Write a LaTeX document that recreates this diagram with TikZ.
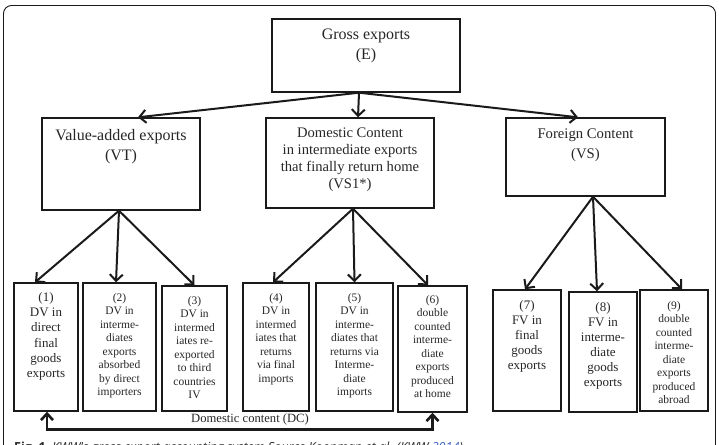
\documentclass[tikz,border=0pt]{standalone}
\usepackage{fontspec}
\setmainfont{Liberation Serif}
\newfontfamily\capfont{Open Sans}
\usetikzlibrary{arrows.meta,fit}
\definecolor{ink}{HTML}{1A1A1A}
\definecolor{txt}{HTML}{262626}
\definecolor{linkblue}{HTML}{3D5FC4}
\tikzset{
  box/.style={draw=ink, line width=1.4pt, inner sep=0pt},
  arr/.style={draw=ink, line width=2pt, -{Straight Barb[length=6.5pt,width=13pt,line width=2pt]}},
  dcarr/.style={draw=ink, line width=2.6pt, {Straight Barb[length=6.5pt,width=12pt]}-{Straight Barb[length=6.5pt,width=12pt]}},
  lbl/.style={text=txt, align=center, inner sep=0pt, anchor=north},
  big/.style={font=\fontsize{16}{20}\selectfont},
  mid/.style={font=\fontsize{14.6}{17}\selectfont},
  midb/.style={font=\fontsize{14.7}{20}\selectfont},
  sml/.style={font=\fontsize{13}{15.3}\selectfont},
  tiny/.style={font=\fontsize{11.5}{13.5}\selectfont},
}
\begin{document}
\begin{tikzpicture}[x=1pt,y=-1pt]
\useasboundingbox (0,0) rectangle (719,444);
% outer frame
\draw[ink, line width=0.9pt, rounded corners=8pt] (3.5,470) rectangle (715.5,5.5);
% top level
\node[box, fit={(272,19) (460,92)}] (E) {};
\node[box, fit={(42,118) (200,210)}] (VT) {};
\node[box, fit={(266,118) (434,208)}] (VS1) {};
\node[box, fit={(506,118) (665,196)}] (VS) {};
\node[lbl, big] (tE) at (366,29) {Gross exports\\(E)};
\node[lbl, big] (tVT) at (121,129) {Value-added exports\\(VT)};
\node[lbl, mid] (tVS1) at (350,128) {Domestic Content\\in intermediate exports\\that finally return home\\(VS1*)};
\node[lbl, midb] (tVS) at (585.5,129) {Foreign Content\\(VS)};
% bottom boxes
\node[box, fit={(14,283) (78,411)}] (b1) {};
\node[box, fit={(83,283) (156,411)}] (b2) {};
\node[box, fit={(162,286) (227,411)}] (b3) {};
\node[box, fit={(243,283) (309,411)}] (b4) {};
\node[box, fit={(316,283) (393,411)}] (b5) {};
\node[box, fit={(398,286) (467,412)}] (b6) {};
\node[box, fit={(493,290) (561,411)}] (b7) {};
\node[box, fit={(569,292) (637,412)}] (b8) {};
\node[box, fit={(640,290) (708,411)}] (b9) {};
\node[lbl, sml] (t1) at (46,292) {(1)\\DV in\\direct\\final\\goods\\exports};
\node[lbl, tiny] (t2) at (119.5,293) {(2)\\DV in\\interme-\\diates\\exports\\absorbed\\by direct\\importers};
\node[lbl, tiny] (t3) at (194.5,296) {(3)\\DV in\\intermed\\iates re-\\exported\\to third\\countries\\IV};
\node[lbl, tiny] (t4) at (276,293) {(4)\\DV in\\intermed\\iates that\\returns\\via final\\imports};
\node[lbl, tiny] (t5) at (354.5,293) {(5)\\DV in\\interme-\\diates that\\returns via\\Interme-\\diate\\imports};
\node[lbl, tiny] (t6) at (432.5,295) {(6)\\double\\counted\\interme-\\diate\\exports\\produced\\at home};
\node[lbl, font=\fontsize{13}{15}\selectfont] (t7) at (527,300) {(7)\\FV in\\final\\goods\\exports};
\node[lbl, font=\fontsize{13}{15}\selectfont] (t8) at (603,302) {(8)\\FV in\\interme-\\diate\\goods\\exports};
\node[lbl, tiny] (t9) at (674,301) {(9)\\double\\counted\\interme-\\diate\\exports\\produced\\abroad};
% arrows from E
\draw[arr] ([xshift=-7pt]E.south) -- ([xshift=17pt]VT.north);
\draw[arr] ([xshift=-7pt]E.south) -- ([xshift=8pt]VS1.north);
\draw[arr] ([xshift=-7pt]E.south) -- ([xshift=-7.5pt]VS.north);
% arrows from VT
\draw[arr] ([xshift=-2pt]VT.south) -- ([xshift=-11pt]b1.north);
\draw[arr] ([xshift=-2pt]VT.south) -- ([xshift=-3.5pt]b2.north);
\draw[arr] ([xshift=-2pt]VT.south) -- (b3.north);
% arrows from VS1
\draw[arr] ([xshift=3pt]VS1.south) -- ([xshift=-3pt]b4.north);
\draw[arr] ([xshift=3pt]VS1.south) -- (b5.north);
\draw[arr] ([xshift=3pt]VS1.south) -- ([xshift=-4.5pt]b6.north);
% arrows from VS
\draw[arr] ([xshift=7.5pt]VS.south) -- ([xshift=-2pt]b7.north);
\draw[arr] ([xshift=7.5pt]VS.south) -- ([xshift=-6pt]b8.north);
\draw[arr] ([xshift=7.5pt]VS.south) -- ([xshift=8pt]b9.north);
% domestic content
\draw[dcarr] ([xshift=1pt]b1.south) -- ++(0,18) -| (b6.south);
\node[text=txt, inner sep=0pt, anchor=base, font=\fontsize{12.6}{15}\selectfont] (dc) at (250,422) {Domestic content (DC)};
% caption (cut by the lower edge, as in the reference)
\node[inner sep=0pt, anchor=base west, font=\capfont\fontsize{12.5}{15}\selectfont, text=txt] (cap) at (14,451)
  {\textbf{Fig.~1}\enspace\textit{KWW's gross export accounting system Source Koopman et al. (KWW \textcolor{linkblue}{2014})}};
\end{tikzpicture}
\end{document}
